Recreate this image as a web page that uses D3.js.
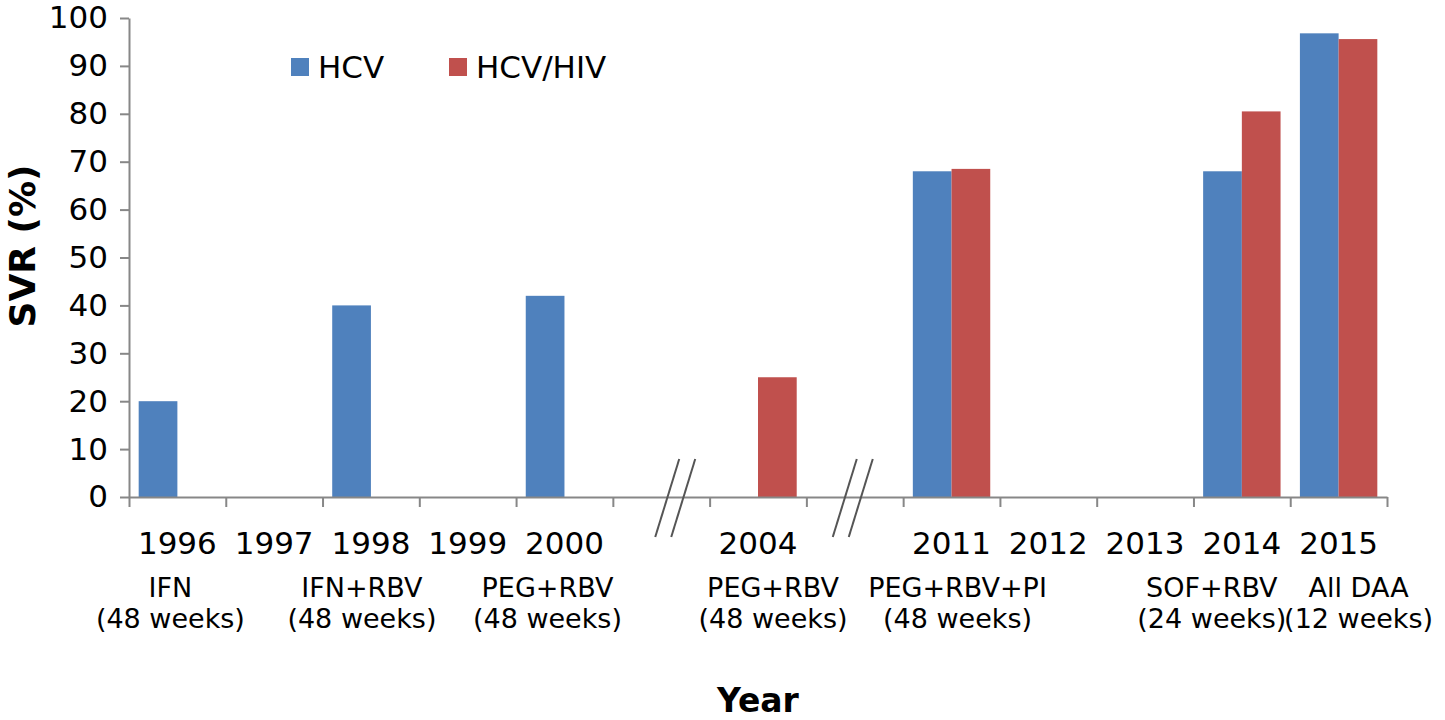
<!DOCTYPE html>
<html>
<head>
<meta charset="utf-8">
<script src="https://cdn.jsdelivr.net/npm/d3@7"></script>
<style>
  html, body { margin: 0; padding: 0; background: #fff; }
  svg { display: block; }
</style>
</head>
<body>
<svg id="chart" width="1445" height="720"></svg>
<script>
// ---- data ----
const categories = ["1996", "1997", "1998", "1999", "2000", "gapA", "2004", "gapB", "2011", "2012", "2013", "2014", "2015"];
const tickLabels = ["1996", "1997", "1998", "1999", "2000", "", "2004", "", "2011", "2012", "2013", "2014", "2015"];
const seriesNames = ["HCV", "HCV/HIV"];
const hcvValues    = [20, null, 40, null, 42, null, null, null, 68, null, null, 68, 96.8];
const hcvHivValues = [null, null, null, null, null, null, 25, null, 68.5, null, null, 80.5, 95.6];
const yTicks = [0, 10, 20, 30, 40, 50, 60, 70, 80, 90, 100];
const treatmentCats  = ["1996", "1998", "2000", "2004", "2011", "2014", "2015"];
const treatmentLine1 = ["IFN", "IFN+RBV", "PEG+RBV", "PEG+RBV", "PEG+RBV+PI", "SOF+RBV", "All DAA"];
const treatmentLine2 = ["(48 weeks)", "(48 weeks)", "(48 weeks)", "(48 weeks)", "(48 weeks)", "(24 weeks)", "(12 weeks)"];
const breakAfter = ["gapA", "gapB"];

// ---- layout ----
const colors = { "HCV": "#4F81BD", "HCV/HIV": "#C0504D" };
const treatmentDx = [-7, -9, -17, 15, 6, -30, 20];
const breakDx = [14, -2];
const axisColor = "#878787";
const svg = d3.select("#chart");
const plotL = 129, plotR = 1387, plotT = 18, plotB = 497;

const x0 = d3.scaleBand().domain(categories).range([plotL, plotR]).padding(0);
const x1 = d3.scaleBand().domain(seriesNames).range([0, x0.bandwidth()]).paddingInner(0).paddingOuter(0.25);
const y = d3.scaleLinear().domain([0, 100]).range([plotB, plotT]);

const rows = categories.map((c, i) => ({ cat: c, vals: [
  { s: "HCV", v: hcvValues[i] }, { s: "HCV/HIV", v: hcvHivValues[i] }
]}));

// bars
const g = svg.append("g");
g.selectAll("g.grp").data(rows).join("g").attr("class", "grp")
  .attr("transform", d => `translate(${x0(d.cat)},0)`)
  .selectAll("rect").data(d => d.vals.filter(v => v.v != null)).join("rect")
  .attr("x", d => x1(d.s)).attr("width", x1.bandwidth())
  .attr("y", d => y(d.v)).attr("height", d => y(0) - y(d.v))
  .attr("fill", d => colors[d.s]);

// y axis
const yAxis = svg.append("g").attr("transform", `translate(${plotL},0)`)
  .call(d3.axisLeft(y).tickValues(yTicks).tickSize(9).tickPadding(12).tickSizeOuter(0));
yAxis.select(".domain").attr("stroke", axisColor).attr("stroke-width", 2);
yAxis.selectAll(".tick line").attr("stroke", axisColor).attr("stroke-width", 2);
yAxis.selectAll(".tick text").attr("font-family", "DejaVu Sans, Verdana, sans-serif")
  .attr("font-size", 31).attr("fill", "#000");

// x axis (ticks at slot boundaries)
const xb = d3.scaleLinear().domain([0, categories.length]).range([plotL, plotR]);
const xAxis = svg.append("g").attr("transform", `translate(0,${plotB})`)
  .call(d3.axisBottom(xb).tickValues(d3.range(categories.length + 1)).tickSize(10).tickFormat("").tickSizeOuter(0));
xAxis.select(".domain").attr("stroke", axisColor).attr("stroke-width", 2);
xAxis.selectAll(".tick line").attr("stroke", axisColor).attr("stroke-width", 2);

// year labels
svg.append("g").selectAll("text").data(categories).join("text")
  .attr("x", (d) => x0(d) + x0.bandwidth() / 2)
  .attr("y", 554)
  .attr("text-anchor", "middle")
  .attr("font-family", "DejaVu Sans, Verdana, sans-serif")
  .attr("font-size", 31).attr("fill", "#000")
  .text((d, i) => tickLabels[i]);

// treatment labels
const tl = svg.append("g").attr("font-family", "DejaVu Sans, Verdana, sans-serif")
  .attr("font-size", 27).attr("fill", "#000").attr("text-anchor", "middle");
treatmentCats.forEach((c, i) => {
  const cx = x0(c) + x0.bandwidth() / 2 + treatmentDx[i];
  tl.append("text").attr("x", cx).attr("y", 597).text(treatmentLine1[i]);
  tl.append("text").attr("x", cx).attr("y", 628).text(treatmentLine2[i]);
});

// axis breaks
breakAfter.forEach((c, i) => {
  const cx = x0(c) + x0.bandwidth() / 2 + breakDx[i];
  [-8, 8].forEach(o => {
    svg.append("line")
      .attr("x1", cx + o + 12).attr("y1", plotB - 38)
      .attr("x2", cx + o - 12).attr("y2", plotB + 40)
      .attr("stroke", "#555").attr("stroke-width", 2);
  });
});

// legend
const lg = svg.append("g").attr("font-family", "DejaVu Sans, Verdana, sans-serif").attr("font-size", 31);
const legendX = [291, 449];
seriesNames.forEach((s, i) => {
  lg.append("rect").attr("x", legendX[i]).attr("y", 58).attr("width", 18).attr("height", 18).attr("fill", colors[s]);
  lg.append("text").attr("x", legendX[i] + 27).attr("y", 78).attr("fill", "#000").text(s);
});

// axis titles
svg.append("text").attr("transform", "translate(35,246) rotate(-90)")
  .attr("text-anchor", "middle").attr("font-family", "DejaVu Sans, Verdana, sans-serif")
  .attr("font-weight", "bold").attr("font-size", 36).attr("fill", "#000").text("SVR (%)");
svg.append("text").attr("x", 758).attr("y", 712)
  .attr("text-anchor", "middle").attr("font-family", "DejaVu Sans, Verdana, sans-serif")
  .attr("font-weight", "bold").attr("font-size", 33).attr("fill", "#000").text("Year");
</script>
</body>
</html>
